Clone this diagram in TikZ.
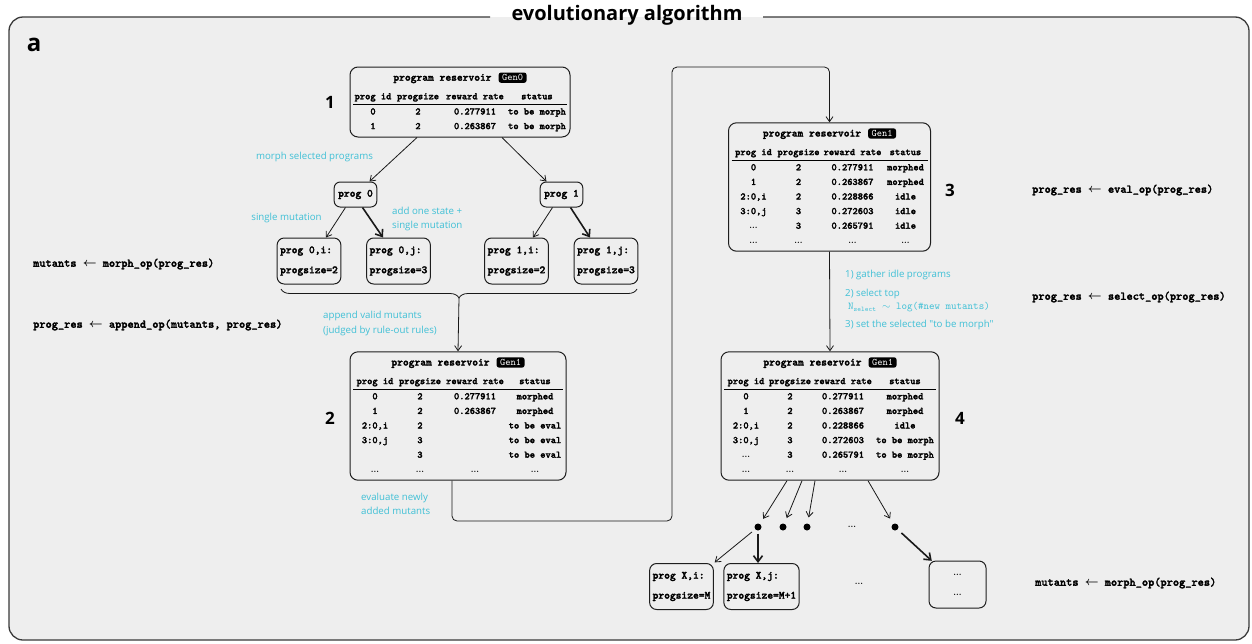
\documentclass[tikz,border=0pt]{standalone}
\usepackage{fontspec}
\usepackage{array}
\usetikzlibrary{arrows.meta,calc,decorations.pathreplacing}
\newfontfamily\opensans{Open Sans}
\newfontfamily\codefont[FakeBold=2.2]{lmmonolt10-bold.otf}
\definecolor{panelbg}{HTML}{EEEEEE}
\definecolor{frameline}{HTML}{3A3A3A}
\definecolor{boxline}{HTML}{1E1E1E}
\definecolor{notecyan}{RGB}{64,192,214}
\setlength{\tabcolsep}{0pt}
\setlength{\arrayrulewidth}{0.6pt}
\newcolumntype{C}[1]{>{\centering\arraybackslash}p{#1}}
% black generation badge next to a reservoir title
\newcommand{\gentag}[2]{\tikz[baseline=(#1.base)]\node[fill=black,text=white,rounded corners=2.5pt,inner xsep=3.5pt,inner ysep=2pt,font=\fontsize{10}{10}\selectfont\ttfamily](#1){#2};}
\newcommand{\etc}{{\rmfamily\bfseries\fontsize{8}{8}\selectfont ...}}
\newcommand{\assignarrow}{{\boldmath$\leftarrow$}}
\newcommand{\restitle}[2]{\multicolumn{4}{c}{\fontsize{11}{14.6}\selectfont program reservoir\hspace{7pt}\gentag{#1}{#2}}\\[4pt]}
\newcommand{\reshead}{prog id & progsize & reward rate & status\\ \hline}

\begin{document}
\begin{tikzpicture}[x=1pt,y=-1pt,
  frame/.style={draw=frameline,line width=1.3pt,rounded corners=14pt},
  titletext/.style={font=\opensans\bfseries\fontsize{20}{22}\selectfont,inner sep=0pt},
  panelmark/.style={font=\opensans\bfseries\fontsize{24}{26}\selectfont,inner sep=0pt},
  stepnum/.style={font=\opensans\bfseries\fontsize{17}{18}\selectfont,inner sep=0pt},
  restab/.style={draw=boxline,line width=1pt,rounded corners=8pt,inner xsep=3pt,inner ysep=3.5pt,
    font=\fontsize{10}{14.6}\selectfont\codefont},
  progbox/.style={draw=boxline,line width=1pt,rounded corners=6pt,inner xsep=4pt,inner ysep=0pt,
    minimum height=25pt,font=\fontsize{11}{13}\selectfont\codefont},
  mutbox/.style={draw=boxline,line width=1pt,rounded corners=7pt,inner xsep=3pt,inner ysep=0pt,
    minimum height=46pt,align=left,font=\fontsize{11}{20}\selectfont\codefont},
  oplabel/.style={anchor=west,inner sep=0pt,font=\fontsize{11.8}{13}\selectfont\codefont},
  note/.style={text=notecyan,inner sep=0pt,align=left,font=\opensans\fontsize{9.7}{14.5}\selectfont},
  dotnode/.style={circle,fill=black,inner sep=0pt,minimum size=7pt},
  conn/.style={draw=black!90,line width=0.8pt,-{Straight Barb[length=5pt,width=7pt]}},
  boldconn/.style={conn,line width=1.6pt,-{Straight Barb[length=6pt,width=9pt]}}]

\useasboundingbox (0,0) rectangle (1252,643);
\fill[white] (0,0) rectangle (1252,643);

% outer panel with its title set into the top border
\fill[panelbg,rounded corners=14pt] (9,17) rectangle (1249,640);
\node[titletext] (title) at (627,15) {evolutionary algorithm};
\draw[frame] (490,17) -- (9,17) -- (9,640) -- (1249,640) -- (1249,17) -- (763,17);
\node[panelmark] (pa) at (34,45) {a};

% program reservoirs
\node[restab] (r1) at (460,102) {\begin{tabular}{C{40pt}C{50pt}C{64pt}C{60pt}}
\restitle{g0}{Gen0}
\reshead
0 & 2 & 0.277911 & to be morph\\
1 & 2 & 0.263867 & to be morph
\end{tabular}};
\node[stepnum] (n1) at (330,102) {1};

\node[restab] (r2) at (458,416) {\begin{tabular}{C{44pt}C{46pt}C{64pt}C{56pt}}
\restitle{g2}{Gen1}
\reshead
0 & 2 & 0.277911 & morphed\\
1 & 2 & 0.263867 & morphed\\
2:0,i & 2 & & to be eval\\
3:0,j & 3 & & to be eval\\
 & 3 & & to be eval\\
\etc & \etc & \etc & \etc
\end{tabular}};
\node[stepnum] (n2) at (330,418) {2};

\node[restab] (r3) at (829.5,187) {\begin{tabular}{C{44pt}C{46pt}C{62pt}C{44pt}}
\restitle{g1}{Gen1}
\reshead
0 & 2 & 0.277911 & morphed\\
1 & 2 & 0.263867 & morphed\\
2:0,i & 2 & 0.228866 & idle\\
3:0,j & 3 & 0.272603 & idle\\
\etc & 3 & 0.265791 & idle\\
\etc & \etc & \etc & \etc
\end{tabular}};
\node[stepnum] (n3) at (950,190) {3};

\node[restab] (r4) at (830,416) {\begin{tabular}{C{44pt}C{44pt}C{62pt}C{62pt}}
\restitle{g3}{Gen1}
\reshead
0 & 2 & 0.277911 & morphed\\
1 & 2 & 0.263867 & morphed\\
2:0,i & 2 & 0.228866 & idle\\
3:0,j & 3 & 0.272603 & to be morph\\
\etc & 3 & 0.265791 & to be morph\\
\etc & \etc & \etc & \etc
\end{tabular}};
\node[stepnum] (n4) at (960,418) {4};

% morphing of the selected programs
\node[progbox] (p0) at (355.5,194.5) {prog 0};
\node[progbox] (p1) at (561.5,194.5) {prog 1};
\node[mutbox] (p0i) at (309,261) {prog 0,i:\\progsize=2};
\node[mutbox] (p0j) at (398.5,261) {prog 0,j:\\progsize=3};
\node[mutbox] (p1i) at (516.5,261) {prog 1,i:\\progsize=2};
\node[mutbox] (p1j) at (606,261) {prog 1,j:\\progsize=3};

\draw[conn] ([xshift=-43pt]r1.south) -- ([xshift=14pt]p0.north);
\draw[conn] ([xshift=42pt]r1.south) -- ([xshift=-15pt]p1.north);
\draw[conn] ([xshift=-10pt]p0.south) -- ([xshift=17pt]p0i.north);
\draw[boldconn] ([xshift=7pt]p0.south) -- ([xshift=-15.5pt]p0j.north);
\draw[conn] ([xshift=-9pt]p1.south) -- ([xshift=16.5pt]p1i.north);
\draw[boldconn] ([xshift=9pt]p1.south) -- ([xshift=-16pt]p1j.north);

\node[note,anchor=center] (ms) at (314.5,157) {morph selected programs};
\node[note,anchor=center] (sm) at (286.5,218) {single mutation};
\node[note,anchor=west] (ao) at (392,219) {add one state +\\single mutation};

% collected mutants appended to the reservoir
\draw[line width=0.8pt,draw=black!90,decorate,decoration={brace,mirror,amplitude=9pt}] (281,289) -- (637,289);
\coordinate (bt) at (459,298);
\draw[conn] (bt) -- (r2.north);
\node[note,anchor=west] (av) at (323,323.5) {append valid mutants\\(judged by rule-out rules)};

% evaluation loop into the next reservoir
\draw[conn,rounded corners=5pt] ([xshift=-6pt]r2.south) |- (672,521) -- (672,67) -| (r3.north);
\node[note,anchor=west] (en) at (361,504) {evaluate newly\\added mutants};

% selection
\draw[conn] (r3.south) -- (r4.north);
\node[note,anchor=west] (s1) at (845,275) {1) gather idle programs};
\node[note,anchor=west] (s2) at (845,294) {2) select top};
\node[note,anchor=west,font=\fontsize{10.5}{12}\selectfont\ttfamily] (s2b) at (848,307) {N\textsubscript{\fontsize{7}{7}\selectfont select} $\sim$ log(\#new mutants)};
\node[note,anchor=west] (s3) at (845,325) {3) set the selected "to be morph"};

% next round of morphing
\node[dotnode] (dt1) at (758,527) {};
\node[dotnode] (dt2) at (783,527) {};
\node[dotnode] (dt3) at (807,527) {};
\node[inner sep=0pt] (dtm) at (852,527) {\etc};
\node[dotnode] (dt4) at (895,527) {};
\draw[conn,shorten >=6pt] ([xshift=-43pt]r4.south) -- (dt1);
\draw[conn,shorten >=6pt] ([xshift=-28pt]r4.south) -- (dt2);
\draw[conn,shorten >=6pt] ([xshift=-15pt]r4.south) -- (dt3);
\draw[conn,shorten >=6pt] ([xshift=38pt]r4.south) -- (dt4);

\node[mutbox] (xi) at (681.5,586.5) {prog X,i:\\progsize=M};
\node[mutbox] (xj) at (761.5,586.5) {prog X,j:\\progsize=M+1};
\node[inner sep=0pt] (xm) at (859,584) {\etc};
\node[mutbox,align=center,minimum width=57pt,minimum height=47pt] (xr) at (957.5,584.5) {\etc\\\etc};
\draw[conn,shorten <=4pt,shorten >=1pt] (dt1) -- (xi.north east);
\draw[boldconn,shorten <=3pt] (dt1) -- (dt1 |- xj.north);
\draw[boldconn,shorten <=5pt,shorten >=1pt] (dt4) -- ([xshift=4pt,yshift=-1pt]xr.north west);

% operator summaries
\node[oplabel] (opl1) at (33,264) {mutants \assignarrow{} morph\_op(prog\_res)};
\node[oplabel] (opl2) at (33,325) {prog\_res \assignarrow{} append\_op(mutants, prog\_res)};
\node[oplabel] (opr1) at (1032,190) {prog\_res \assignarrow{} eval\_op(prog\_res)};
\node[oplabel] (opr2) at (1032,297) {prog\_res \assignarrow{} select\_op(prog\_res)};
\node[oplabel] (opr3) at (1035,583) {mutants \assignarrow{} morph\_op(prog\_res)};
\end{tikzpicture}
\end{document}
